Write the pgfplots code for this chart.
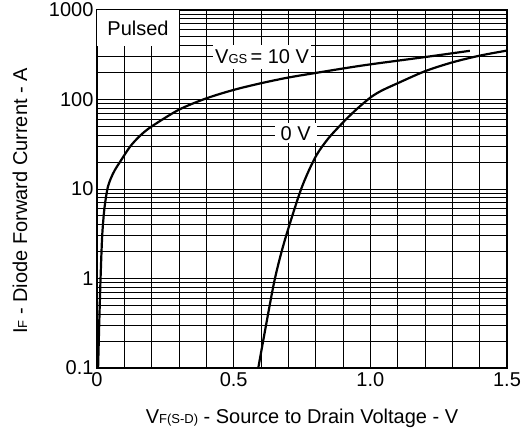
\documentclass[border=0pt]{standalone}
\usepackage{fontspec}
\setmainfont{Liberation Sans}
\usepackage{pgfplots}
\pgfplotsset{compat=1.18}
\newcommand{\sub}[1]{{\fontsize{13}{13}\selectfont #1}}
\pgfplotstableread{
x y
0.004 0.1
0.008 0.3
0.013 1
0.019 3
0.027 6
0.038 10
0.050 13
0.065 16.2
0.086 20.5
0.122 30
0.158 39.5
0.200 50
0.300 77
0.400 103
0.500 128
0.600 152
0.700 176
0.800 198
0.900 222
1.000 247
1.200 298
1.364 350
}\vgsten
\pgfplotstableread{
x y
0.590 0.1
0.620 0.32
0.651 1
0.687 2.67
0.747 10
0.798 22.4
0.844 36
0.899 55
0.948 77
1.000 105
1.040 125
1.100 152
1.200 207
1.300 260
1.400 309
1.500 352
}\vgszero
\begin{document}
\begin{tikzpicture}
\path[use as bounding box] (-97pt,-65pt) rectangle (430pt,368pt);
\begin{axis}[
  at={(0pt,0pt)}, anchor=south west,
  scale only axis, width=410pt, height=358pt,
  xmin=0, xmax=1.5, ymode=log, ymin=0.1, ymax=1000,
  xtick={0,0.5,1,1.5}, xticklabels={0,0.5,1.0,1.5},
  minor xtick={0.1,0.2,0.3,0.4,0.6,0.7,0.8,0.9,1.1,1.2,1.3,1.4},
  ytick={0.1,1,10,100,1000}, yticklabels={0.1,1,10,100,1000},
  minor ytick={0.2,0.3,0.4,0.5,0.6,0.7,0.8,0.9,2,3,4,5,6,7,8,9,20,30,40,50,60,70,80,90,200,300,400,500,600,700,800,900},
  grid=both,
  major grid style={black, line width=0.9pt},
  minor grid style={black, line width=0.9pt},
  axis line style={line width=2pt},
  tick style={draw=none},
  ticklabel style={font=\fontsize{20}{20}\selectfont},
  /pgf/number format/assume math mode=true,
  xticklabel style={yshift=-1pt},
]
\fill[white] (axis cs:0,400) rectangle (axis cs:0.3,1000);
\node[font=\fontsize{20}{20}\selectfont] at (axis cs:0.15,630) {Pulsed};
\node[fill=white, inner xsep=2pt, inner ysep=0pt, minimum height=24pt, font=\fontsize{20}{20}\selectfont] at (axis cs:0.604,300) {V\sub{GS}\,= 10 V};
\node[fill=white, inner xsep=0pt, minimum width=42pt, inner ysep=0pt, minimum height=20pt, font=\fontsize{20}{20}\selectfont] at (axis cs:0.727,42) {0 V};
\addplot[black, line width=2.2pt, smooth] table[x=x,y=y] {\vgsten};
\addplot[black, line width=2.2pt, smooth] table[x=x,y=y] {\vgszero};
\end{axis}
\node[font=\fontsize{20}{20}\selectfont] at (205pt,-50pt) {V\sub{F(S-D)} - Source to Drain Voltage - V};
\node[rotate=90, font=\fontsize{20}{20}\selectfont] at (-77pt,167pt) {I\sub{F} - Diode Forward Current - A};
\end{tikzpicture}
\end{document}
